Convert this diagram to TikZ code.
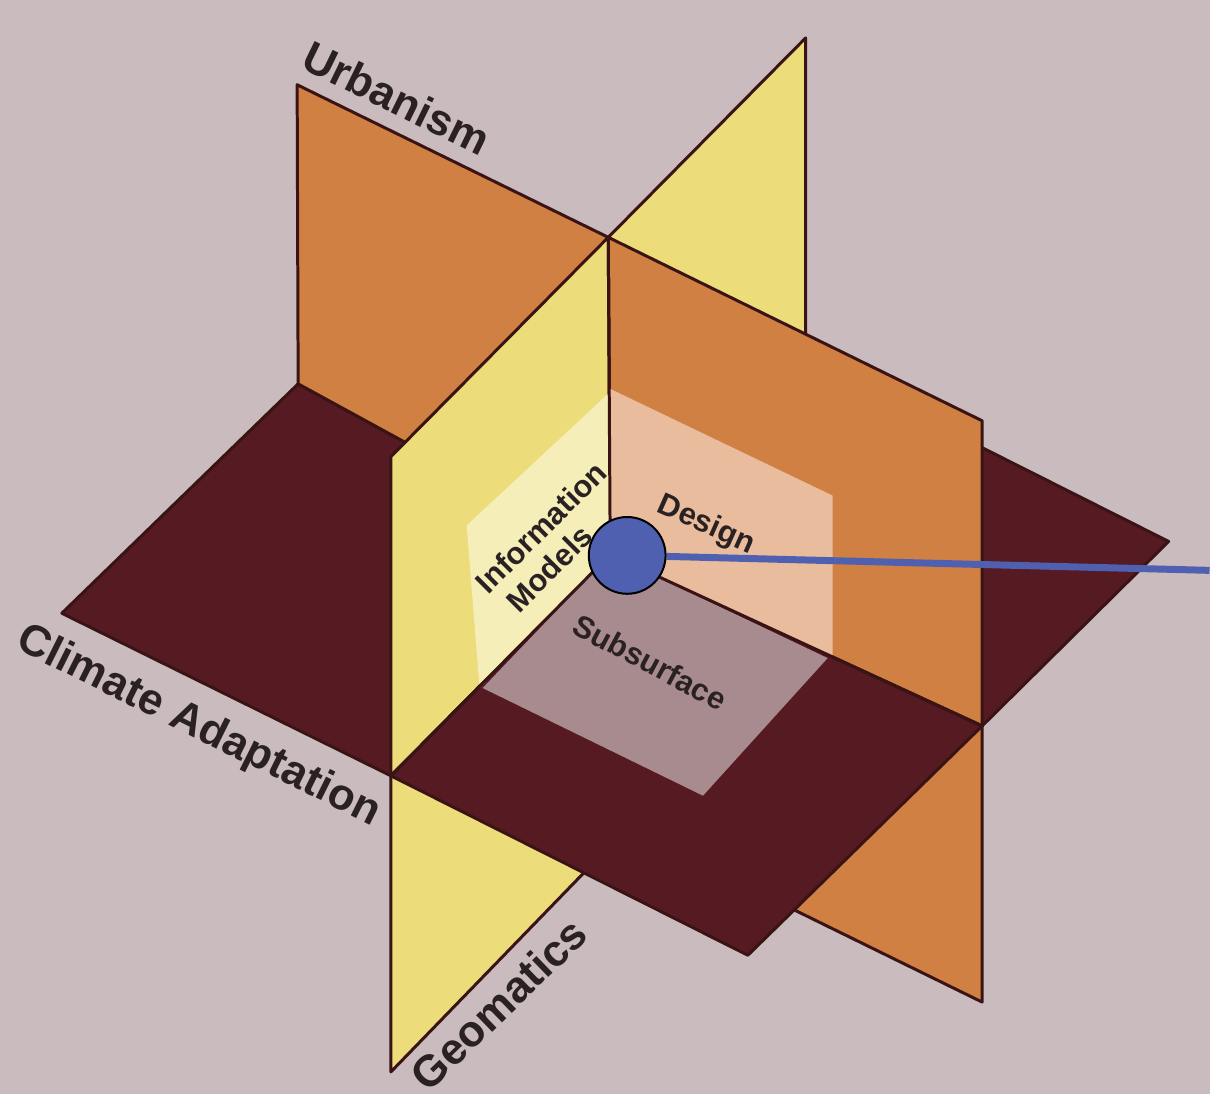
\documentclass[tikz,border=0pt]{standalone}
\usepackage{fontspec}
\setmainfont{Liberation Sans}
\definecolor{bgc}{HTML}{CABBBF}
\definecolor{orc}{HTML}{D08042}
\definecolor{yec}{HTML}{ECDC7A}
\definecolor{dkc}{HTML}{561A22}
\definecolor{lyc}{HTML}{F5EEB9}
\definecolor{pcc}{HTML}{E8BC9D}
\definecolor{mvc}{HTML}{A88B8F}
\definecolor{edgec}{HTML}{3A1414}
\definecolor{txtc}{HTML}{2A2222}
\definecolor{dotc}{HTML}{5060B0}
\pgfdeclarelayer{back}
\pgfsetlayers{back,main}
\begin{document}
\begin{tikzpicture}[x=1pt,y=-1pt,
  panel/.style={draw=edgec, line width=3pt, line join=round},
  biglab/.style={text=txtc, font=\bfseries\fontsize{44}{48}\selectfont, inner sep=0pt},
  smlab/.style={text=txtc, font=\bfseries\fontsize{31}{35}\selectfont, inner sep=0pt},
  dotnode/.style={circle, fill=dotc, draw=black, line width=2pt, minimum size=77pt, inner sep=0pt},
  blueline/.style={draw=dotc, line width=7pt}]
\begin{pgfonlayer}{back}
\fill[bgc] (0,0) rectangle (1213,1097);
\useasboundingbox (0,0) rectangle (1213,1097);
% key points
\coordinate (C) at (612,556);
\coordinate (T) at (610,238);
\coordinate (OTL) at (298,85);
\coordinate (OTR) at (985,422);
\coordinate (OBR) at (985,1005);
\coordinate (OBL) at (298,662);
\coordinate (OBC) at (612,822);
\coordinate (S) at (299,385);
\coordinate (P) at (985,728);
\coordinate (YTR) at (808,38);
\coordinate (YTL) at (392,458);
\coordinate (YBL) at (392,1075);
\coordinate (YBC) at (612,848);
\coordinate (M) at (808,360);
\coordinate (YBR) at (808,660);
\coordinate (Q) at (392,778);
\coordinate (L) at (62,615);
\coordinate (B) at (750,958);
\coordinate (R) at (1172,543);
\coordinate (K) at (490,202);
% back-most pieces
\filldraw[panel, fill=orc] (S) -- (C) -- (OBC) -- (OBL) -- cycle;
\filldraw[panel, fill=yec] (C) -- (M) -- (YBR) -- (YBC) -- cycle;
\filldraw[panel, fill=dkc] (C) -- (S) -- (K) -- (M) -- cycle;
\filldraw[panel, fill=orc] (C) -- (P) -- (OBR) -- (OBC) -- cycle;
\filldraw[panel, fill=yec] (C) -- (Q) -- (YBL) -- (YBC) -- cycle;
\filldraw[panel, fill=dkc] (C) -- (Q) -- (L) -- (S) -- cycle;
\filldraw[panel, fill=dkc] (C) -- (M) -- (R) -- (P) -- cycle;
\filldraw[panel, fill=orc] (OTL) -- (T) -- (C) -- (S) -- cycle;
\filldraw[panel, fill=yec] (T) -- (YTR) -- (M) -- (C) -- cycle;
\filldraw[panel, fill=dkc] (C) -- (P) -- (B) -- (Q) -- cycle;
\filldraw[panel, fill=orc] (T) -- (OTR) -- (P) -- (C) -- cycle;
\filldraw[panel, fill=yec] (T) -- (C) -- (Q) -- (YTL) -- cycle;
% inner squares
\fill[lyc] (613,392) -- (468,527) -- (481,690) -- (C) -- cycle;
\fill[pcc] (612,390) -- (835,497) -- (835,659) -- (C) -- cycle;
\fill[mvc] (C) -- (830,660) -- (705,798) -- (484,690) -- cycle;
\draw[panel] (T) -- (C) -- (P);
\draw[panel] (C) -- (Q);
\end{pgfonlayer}
% labels
\node[biglab, rotate=-26] (urb) at (398,98) {Urbanism};
\node[biglab, rotate=-26.5] (cli) at (199,729) {Climate Adaptation};
\node[biglab, rotate=44] (geo) at (500,1007) {Geomatics};
\node[smlab, rotate=45, align=left] (inf) at (555,541) {Information\\\hspace*{8pt}Models};
\node[smlab, rotate=-24] (des) at (708,527) {Design};
\node[smlab, rotate=-28] (sub) at (652,664) {Subsurface};
% marker
\coordinate (rend) at (1213,572);
\node[dotnode] (dot) at (629,557) {};
\begin{pgfonlayer}{back}
\draw[blueline] (dot) -- (rend);
\end{pgfonlayer}
\end{tikzpicture}
\end{document}
